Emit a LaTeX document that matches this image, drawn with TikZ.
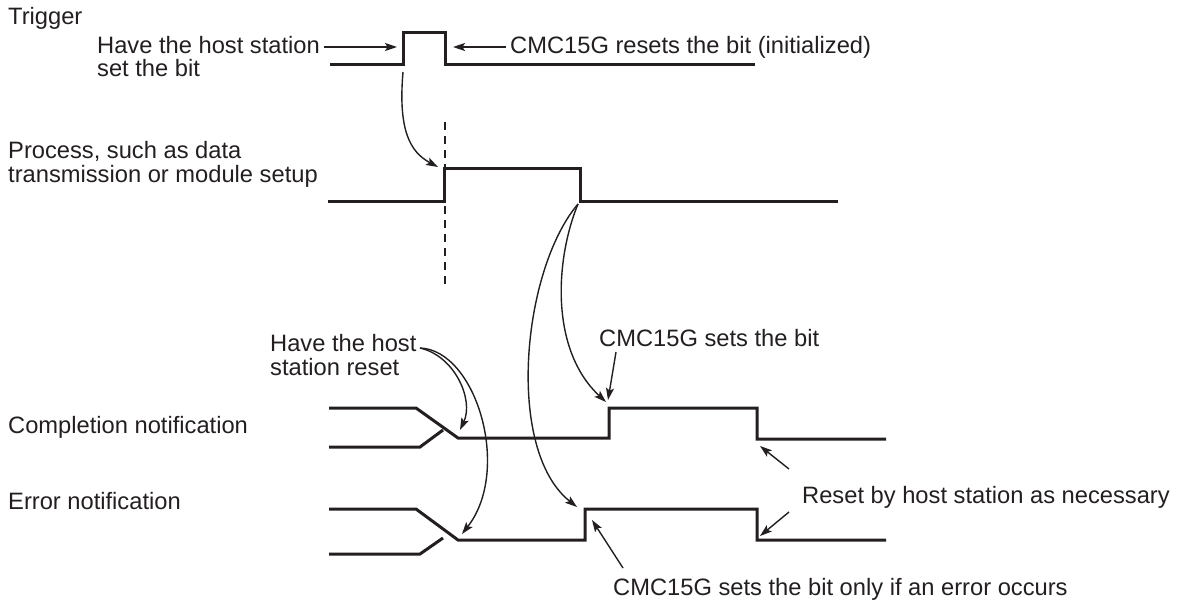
\documentclass[tikz,border=0pt]{standalone}
\usepackage{fontspec}
\setmainfont{Liberation Sans}
\usepackage{xcolor}
\usetikzlibrary{arrows.meta}
\definecolor{SigInk}{HTML}{231F20}
\tikzset{
  siglabel/.style={font=\fontsize{23.7}{24}\selectfont,text=SigInk,inner sep=0pt,align=left,anchor=base west},
  sigline/.style={line width=3pt,draw=SigInk,line join=miter},
  notearrow/.style={-{Stealth[length=12pt,width=8pt,inset=2.5pt]},line width=1.4pt,draw=SigInk},
  guideline/.style={dash pattern=on 8pt off 6pt,line width=1.4pt,draw=SigInk}
}

\begin{document}
\begin{tikzpicture}[x=1pt,y=-1pt]
\useasboundingbox (0,0) rectangle (1180,602);
% labels (base = last line)
\node[siglabel] (trig) at (8,25) {Trigger};
\node[siglabel] (hostset) at (97,77) {Have the host station\\set the bit};
\node[siglabel] (cmcreset) at (510,53) {CMC15G resets the bit (initialized)};
\node[siglabel] (proc) at (8,182) {Process, such as data\\transmission or module setup};
\node[siglabel] (hostreset) at (270,375) {Have the host\\station reset};
\node[siglabel] (cmcset) at (599,346) {CMC15G sets the bit};
\node[siglabel] (compl) at (8,433) {Completion notification};
\node[siglabel] (err) at (8,509) {Error notification};
\node[siglabel] (hostnec) at (802,503) {Reset by host station as necessary};
\node[siglabel] (cmcerr) at (613,595) {CMC15G sets the bit only if an error occurs};

% signal edges
\coordinate (trigRise) at (403,72);
\coordinate (procRise) at (438,167);
\coordinate (procFall) at (578,204);
\coordinate (complRise) at (606,402);
\coordinate (complFall) at (760,446);
\coordinate (errRise) at (577,507);
\coordinate (errFall) at (760,536);
\coordinate (complLow) at (460,430);
\coordinate (errLow) at (462,534);

% trigger
\draw[sigline] (330,65) -- (403,65) -- (403,33) -- (445,33) -- (445,65) -- (755,65);
% process
\draw[guideline] (445,122) -- (445,284);
\draw[sigline] (328,201) -- (444,201) -- (444,168) -- (580,168) -- (580,201) -- (838,201);
% completion notification
\draw[sigline] (329,408) -- (416,408) -- (458,438) -- (609,438) -- (609,408) -- (757,408) -- (757,439) -- (886,439);
\draw[sigline] (329,447) -- (420,447) -- (443,430);
% error notification
\draw[sigline] (329,509) -- (416,509) -- (458,540) -- (585,540) -- (585,509) -- (757,509) -- (757,540) -- (886,540);
\draw[sigline] (329,554) -- (420,554) -- (443,538);

% callouts
\draw[notearrow] (324,47) -- (397,47);
\draw[notearrow] (506,47) -- (453,47);
\draw[notearrow] (trigRise) .. controls (398,130) and (410,152) .. (procRise);
\draw[notearrow] (procFall) .. controls (555,260) and (550,350) .. (complRise);
\draw[notearrow] (procFall) .. controls (522,270) and (505,450) .. (errRise);
\draw[notearrow] (420,348) .. controls (455,356) and (474,400) .. (complLow);
\draw[notearrow] (420,348) .. controls (476,350) and (512,470) .. (errLow);
\draw[notearrow] (616,352) -- (608,400);
\draw[notearrow] (789,469) -- (complFall);
\draw[notearrow] (789,512) -- (errFall);
\draw[notearrow] (623,568) -- (592,520);
\end{tikzpicture}
\end{document}
